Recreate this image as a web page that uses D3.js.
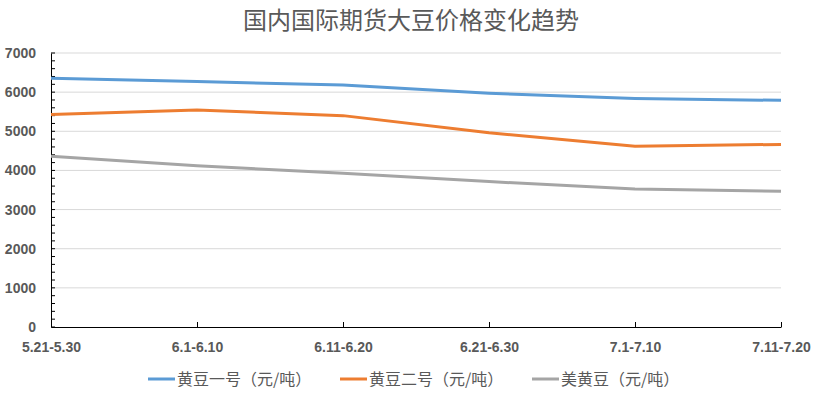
<!DOCTYPE html>
<html>
<head>
<meta charset="utf-8">
<script src="https://cdn.jsdelivr.net/npm/d3@7"></script>
<style>
  body { margin: 0; background: #fff; }
  #chart { width: 816px; height: 393px; }
  .title { font-family: 'Noto Sans CJK SC', sans-serif; font-size: 24px; fill: #595959; }
  .axis text { font-family: 'Liberation Sans', Arial, sans-serif; font-size: 14px; font-weight: bold; fill: #595959; }
  .legend text { font-family: 'Noto Sans CJK SC', sans-serif; font-size: 16px; fill: #595959; }
</style>
</head>
<body>
<div id="chart"></div>
<script>
// categories (ten-day periods)
const categories = ['5.21-5.30', '6.1-6.10', '6.11-6.20', '6.21-6.30', '7.1-7.10', '7.11-7.20'];
// series values, yuan per ton
const soy1 = [6355, 6270, 6180, 5970, 5840, 5790];
const soy2 = [5430, 5545, 5400, 4960, 4620, 4665];
const usSoy = [4360, 4120, 3925, 3715, 3525, 3465];
const seriesNames = ['黄豆一号（元/吨）', '黄豆二号（元/吨）', '美黄豆（元/吨）'];
const yTicks = [0, 1000, 2000, 3000, 4000, 5000, 6000, 7000];

const series = [
  { name: seriesNames[0], values: soy1, color: '#5b9bd5' },
  { name: seriesNames[1], values: soy2, color: '#ed7d31' },
  { name: seriesNames[2], values: usSoy, color: '#a5a5a5' }
];

const width = 816;
const height = 393;
const margin = { top: 53, right: 35, bottom: 66, left: 51 };
const innerW = width - margin.left - margin.right;
const innerH = height - margin.top - margin.bottom;

const svg = d3.select('#chart')
  .append('svg')
  .attr('width', width)
  .attr('height', height);

svg.append('text')
  .attr('class', 'title')
  .attr('x', 411)
  .attr('y', 29)
  .attr('text-anchor', 'middle')
  .text('国内国际期货大豆价格变化趋势');

const g = svg.append('g')
  .attr('transform', `translate(${margin.left}, ${margin.top})`);

const xScale = d3.scalePoint().domain(categories).range([0, innerW]);
const yScale = d3.scaleLinear().domain([0, 7000]).range([innerH, 0]);

// gridlines
g.append('g')
  .selectAll('line')
  .data(yTicks.filter((d) => d > 0))
  .join('line')
  .attr('x1', 0)
  .attr('x2', innerW)
  .attr('y1', (d) => yScale(d))
  .attr('y2', (d) => yScale(d))
  .attr('stroke', '#d9d9d9')
  .attr('stroke-width', 1);

// y axis: labels every 1000, ticks every 200
const yAxis = d3.axisLeft(yScale).tickValues(yTicks).tickSize(0).tickPadding(15).tickFormat(d3.format('d'));
const yG = g.append('g').attr('class', 'y axis').call(yAxis);
yG.select('.domain').attr('stroke', '#000');
g.append('g')
  .selectAll('line')
  .data(d3.range(0, 7001, 200))
  .join('line')
  .attr('x1', 0)
  .attr('x2', 4)
  .attr('y1', (d) => yScale(d))
  .attr('y2', (d) => yScale(d))
  .attr('stroke', '#000');

// x axis
const xAxis = d3.axisBottom(xScale).tickSizeInner(-5).tickSizeOuter(0).tickPadding(15);
const xG = g.append('g')
  .attr('class', 'x axis')
  .attr('transform', `translate(0, ${innerH})`)
  .call(xAxis);
xG.select('.domain').attr('stroke', '#000');
xG.selectAll('.tick line').attr('stroke', '#000');

// lines
const line = d3.line()
  .x((d, i) => xScale(categories[i]))
  .y((d) => yScale(d));

g.selectAll('.series')
  .data(series)
  .join('path')
  .attr('class', 'series')
  .attr('d', (d) => line(d.values))
  .attr('fill', 'none')
  .attr('stroke', (d) => d.color)
  .attr('stroke-width', 3)
  .attr('stroke-linejoin', 'round');

// legend
const legendX = [148, 340, 532];
const legend = svg.append('g').attr('class', 'legend');
const item = legend.selectAll('g')
  .data(series)
  .join('g')
  .attr('transform', (d, i) => `translate(${legendX[i]}, 379)`);
item.append('line')
  .attr('x1', 0)
  .attr('x2', 27)
  .attr('stroke', (d) => d.color)
  .attr('stroke-width', 3);
item.append('text')
  .attr('x', 29)
  .attr('y', 6)
  .text((d) => d.name);
</script>
</body>
</html>
